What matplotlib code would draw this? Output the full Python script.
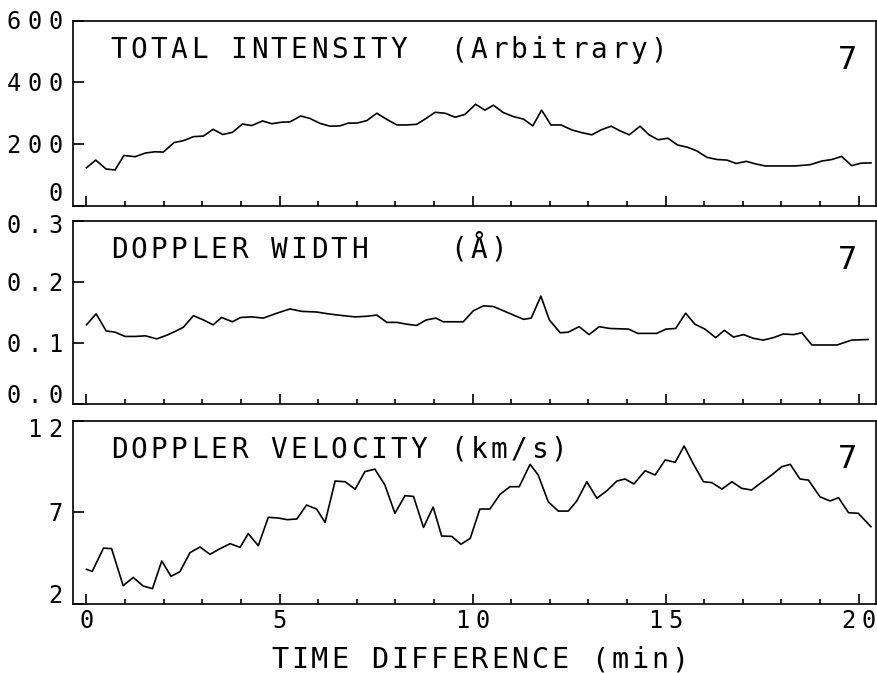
import numpy as np
import matplotlib
matplotlib.use('Agg')
import matplotlib.pyplot as plt
from matplotlib.transforms import offset_copy

FONT = 'DejaVu Sans Mono'

# Total intensity (arbitrary units)
time_int = [0.0, 0.24, 0.51, 0.74, 0.97, 1.26, 1.53, 1.77, 1.99, 2.27, 2.51, 2.77,
            3.03, 3.28, 3.53, 3.78, 4.04, 4.28, 4.56, 4.80, 5.06, 5.27, 5.55, 5.79,
            6.05, 6.31, 6.57, 6.78, 7.00, 7.26, 7.52, 7.78, 8.04, 8.30, 8.55, 8.77,
            9.03, 9.29, 9.55, 9.80, 10.08, 10.32, 10.54, 10.80, 11.06, 11.32, 11.56,
            11.79, 12.03, 12.29, 12.57, 12.83, 13.09, 13.33, 13.59, 13.82, 14.06,
            14.34, 14.57, 14.81, 15.06, 15.31, 15.56, 15.81, 16.07, 16.33, 16.59,
            16.83, 17.09, 17.32, 17.58, 17.84, 18.10, 18.35, 18.74, 19.05, 19.31,
            19.56, 19.82, 20.06, 20.32]
intensity = [123, 148, 119, 116, 163, 159, 171, 175, 174, 205, 211, 224,
             226, 248, 231, 238, 265, 260, 275, 266, 271, 272, 291, 283,
             267, 258, 259, 268, 268, 276, 300, 280, 262, 262, 264, 281,
             303, 300, 287, 296, 329, 310, 326, 302, 289, 281, 259,
             310, 262, 262, 246, 237, 230, 246, 258, 243, 230,
             258, 230, 214, 219, 197, 190, 178, 157, 150, 148,
             137, 144, 136, 129, 129, 129, 129, 133, 145, 150,
             160, 130, 138, 139]

# Doppler width (A)
time_w = [0.0, 0.25, 0.51, 0.74, 1.00, 1.26, 1.53, 1.82, 2.08, 2.29, 2.51, 2.77,
          3.03, 3.28, 3.50, 3.78, 3.99, 4.28, 4.58, 4.93, 5.27, 5.58, 5.96, 6.26,
          6.65, 6.96, 7.26, 7.52, 7.78, 8.04, 8.30, 8.55, 8.80, 9.05, 9.24, 9.76,
          10.02, 10.28, 10.54, 10.80, 11.06, 11.32, 11.52, 11.77, 11.99, 12.27,
          12.48, 12.76, 13.02, 13.28, 13.56, 14.04, 14.28, 14.77, 15.01, 15.26,
          15.52, 15.76, 16.02, 16.30, 16.52, 16.76, 17.02, 17.27, 17.53, 17.79,
          18.05, 18.31, 18.53, 18.79, 19.05, 19.44, 19.82, 20.25]
width = [0.130, 0.148, 0.120, 0.118, 0.111, 0.111, 0.112, 0.107, 0.113, 0.119, 0.126, 0.145,
         0.138, 0.130, 0.142, 0.135, 0.142, 0.143, 0.141, 0.149, 0.156, 0.152, 0.151, 0.148,
         0.145, 0.143, 0.144, 0.146, 0.134, 0.134, 0.131, 0.129, 0.138, 0.141, 0.135, 0.135,
         0.153, 0.161, 0.160, 0.153, 0.146, 0.139, 0.141, 0.177, 0.138, 0.117,
         0.118, 0.127, 0.114, 0.127, 0.124, 0.123, 0.116, 0.116, 0.123, 0.124,
         0.149, 0.131, 0.123, 0.109, 0.121, 0.110, 0.114, 0.108, 0.105, 0.109,
         0.115, 0.114, 0.117, 0.097, 0.097, 0.097, 0.105, 0.106]

# Doppler velocity (km/s)
time_v = [0.0, 0.15, 0.44, 0.65, 0.95, 1.21, 1.47, 1.71, 1.95, 2.19, 2.42, 2.68,
          2.94, 3.20, 3.46, 3.72, 3.98, 4.19, 4.45, 4.71, 4.97, 5.20, 5.45, 5.70,
          5.96, 6.18, 6.44, 6.70, 6.96, 7.21, 7.47, 7.73, 7.99, 8.25, 8.47, 8.73,
          8.98, 9.20, 9.46, 9.70, 9.94, 10.19, 10.45, 10.71, 10.97, 11.21, 11.49,
          11.70, 11.96, 12.22, 12.48, 12.70, 12.96, 13.22, 13.48, 13.74, 13.95,
          14.18, 14.47, 14.73, 14.99, 15.25, 15.48, 15.72, 15.98, 16.20, 16.46,
          16.72, 16.97, 17.23, 17.49, 17.75, 18.01, 18.23, 18.48, 18.70, 19.00,
          19.26, 19.48, 19.74, 19.99, 20.32]
velocity = [3.89, 3.78, 5.05, 5.02, 3.00, 3.45, 2.98, 2.84, 4.35, 3.51, 3.76, 4.80,
            5.11, 4.71, 5.02, 5.29, 5.09, 5.84, 5.18, 6.73, 6.69, 6.60, 6.64, 7.40,
            7.18, 6.45, 8.71, 8.67, 8.26, 9.22, 9.36, 8.49, 6.95, 7.91, 7.87, 6.18,
            7.29, 5.71, 5.69, 5.26, 5.58, 7.18, 7.18, 7.98, 8.40, 8.40, 9.62,
            9.04, 7.58, 7.07, 7.07, 7.62, 8.67, 7.77, 8.18, 8.71, 8.82,
            8.55, 9.27, 9.04, 9.86, 9.73, 10.62, 9.64, 8.67, 8.62, 8.27,
            8.67, 8.31, 8.22, 8.64, 9.04, 9.49, 9.62, 8.82, 8.76, 7.85,
            7.62, 7.80, 6.98, 6.95, 6.22]

int_ticks = [0, 200, 400, 600]
int_labels = ['0', '200', '400', '600']
w_ticks = [0.0, 0.1, 0.2, 0.3]
w_labels = ['0.0', '0.1', '0.2', '0.3']
v_ticks = [2, 7, 12]
v_labels = ['2', '7', '12']
x_ticks = [0, 5, 10, 15, 20]
x_labels = ['0', '5', '10', '15', '20']

titles = ['TOTAL INTENSITY  (Arbitrary)', 'DOPPLER WIDTH    (Å)', 'DOPPLER VELOCITY (km/s)']
event = '7'
xlabel = 'TIME DIFFERENCE (min)'


def spaced_text(ax, x, y, s, trans, size, pitch=20, ha='left', dx=0, dy=0):
    # plotter-like text: every character in a cell of fixed width (pixels)
    n = len(s)
    if ha == 'left':
        x0 = pitch / 2
    elif ha == 'right':
        x0 = -(n - 0.5) * pitch
    else:
        x0 = -(n - 1) / 2 * pitch
    for i, ch in enumerate(s):
        if ch == ' ':
            continue
        tr = offset_copy(trans, fig=ax.figure, x=dx + x0 + i * pitch, y=dy, units='dots')
        ax.text(x, y, ch, transform=tr, ha='center', va='baseline',
                fontsize=size, family=FONT, clip_on=False)


fig = plt.figure(figsize=(8.78, 6.73), dpi=100)

panels = [
    ([0.0831, 0.6943, 0.9146, 0.2749], time_int, intensity, (0, 600), int_ticks, int_labels, (13, 0)),
    ([0.0831, 0.3993, 0.9146, 0.2724], time_w, width, (0, 0.3), w_ticks, w_labels, (10, -4)),
    ([0.0831, 0.1025, 0.9146, 0.2724], time_v, velocity, (2, 12), v_ticks, v_labels, (10, -8)),
]

axes = []
for k, (pos, t, y, ylim, yt, ylab, shift) in enumerate(panels):
    ax = fig.add_axes(pos)
    ax.plot(t, y, color='black', lw=1.2)
    ax.set_xlim(-0.35, 20.45)
    ax.set_ylim(ylim)
    for sp in ax.spines.values():
        sp.set_linewidth(1.2)
    ax.set_xticks(x_ticks)
    ax.set_xticks(np.arange(0, 21), minor=True)
    ax.set_yticks(yt)
    ax.tick_params(axis='x', which='major', direction='in', length=7.2, width=1.2,
                   top=False, labelbottom=False)
    ax.tick_params(axis='x', which='minor', direction='in', length=3.6, width=1.2, top=False)
    ax.tick_params(axis='y', direction='in', length=8, width=1.2, right=False, labelleft=False)

    # y tick labels, the end ones pushed inside the frame like the plotter did
    for j, (v, lab) in enumerate(zip(yt, ylab)):
        dy = -8.5
        if j == 0:
            dy += shift[0]
        elif j == len(yt) - 1:
            dy += shift[1]
        spaced_text(ax, 0, v, lab, ax.get_yaxis_transform(), 17, pitch=21,
                    ha='right', dx=-7, dy=dy)

    spaced_text(ax, 0.045, 0.798, titles[k], ax.transAxes, 20, pitch=20)
    spaced_text(ax, 0.964, 0.74, event, ax.transAxes, 23, pitch=20, ha='center')
    axes.append(ax)

ax = axes[-1]
for v, lab in zip(x_ticks, x_labels):
    spaced_text(ax, v, 0, lab, ax.get_xaxis_transform(), 17, pitch=20, ha='center', dy=-24)
spaced_text(ax, 0.5463, 0.0074, xlabel, fig.transFigure, 20.5, pitch=20, ha='center')

fig.savefig('out.png', dpi=100)
